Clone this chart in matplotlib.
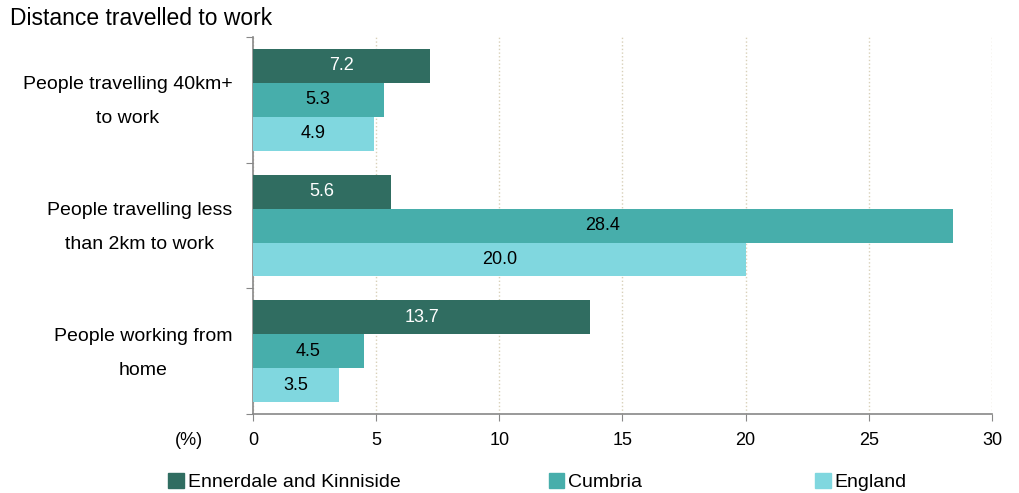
import matplotlib.pyplot as plt
import matplotlib.transforms as mtransforms
from matplotlib.patches import Patch
import numpy as np

plt.rcParams['font.family'] = ['Liberation Sans', 'DejaVu Sans']

categories = ["People travelling 40km+\nto work",
              "People travelling less\nthan 2km to work",
              "People working from\nhome"]
series = ["Ennerdale and Kinniside", "Cumbria", "England"]
ennerdale = [7.2, 5.6, 13.7]
cumbria = [5.3, 28.4, 4.5]
england = [4.9, 20.0, 3.5]

colors = ['#306D61', '#47AEAB', '#80D7DF']
text_colors = ['white', 'black', 'black']

fig = plt.figure(figsize=(10.2, 4.93), dpi=100)
ax = fig.add_axes([0.248, 0.16, 0.9725 - 0.248, 0.925 - 0.16])

y = np.arange(len(categories))
h = 0.27
for k, vals in enumerate([ennerdale, cumbria, england]):
    pos = y + (k - 1) * h
    bars = ax.barh(pos, vals, height=h, color=colors[k], label=series[k], zorder=3)
    for b, v in zip(bars, vals):
        ax.text(v / 2, b.get_y() + b.get_height() / 2, f"{v:.1f}",
                ha='center', va='center', color=text_colors[k], fontsize=13, zorder=4)

ax.set_xlim(0, 30)
ax.set_ylim(2.5, -0.5)
ax.set_xticks(range(0, 31, 5))
ax.set_yticks([-0.5, 0.5, 1.5, 2.5])
ax.set_yticklabels([])
ax.tick_params(axis='y', length=5, color='#888888')
ax.tick_params(axis='x', length=5, color='#888888', labelsize=13, pad=8)

# category labels next to each group
trans = mtransforms.blended_transform_factory(ax.transAxes, ax.transData)
trans = trans + mtransforms.ScaledTranslation(0, -1.5 / 72, fig.dpi_scale_trans)
for yi, cat in zip(y, categories):
    ax.text(-0.028, yi, cat, transform=trans, ha='right', va='center',
            multialignment='center', linespacing=2.3, fontsize=14)

ax.grid(axis='x', linestyle=':', color='#D8D0B8', linewidth=1, zorder=0)
for s in ['top', 'right']:
    ax.spines[s].set_visible(False)
ax.spines['left'].set_color('#888888')
ax.spines['bottom'].set_color('#888888')
ax.spines['left'].set_linewidth(1.2)
ax.spines['bottom'].set_linewidth(1.2)

fig.text(0.01, 0.963, "Distance travelled to work", fontsize=16.5, va='center')
fig.text(0.171, 0.107, "(%)", fontsize=13, va='center')

# legend entries placed one by one
leg_x = [0.148, 0.521, 0.782]
for k in range(3):
    leg = fig.legend(handles=[Patch(color=colors[k], label=series[k])],
                     loc='center left', bbox_to_anchor=(leg_x[k], 0.022), frameon=False,
                     fontsize=14, handlelength=0.8, handleheight=0.8, handletextpad=0.2)

fig.savefig('out.png', dpi=100)
